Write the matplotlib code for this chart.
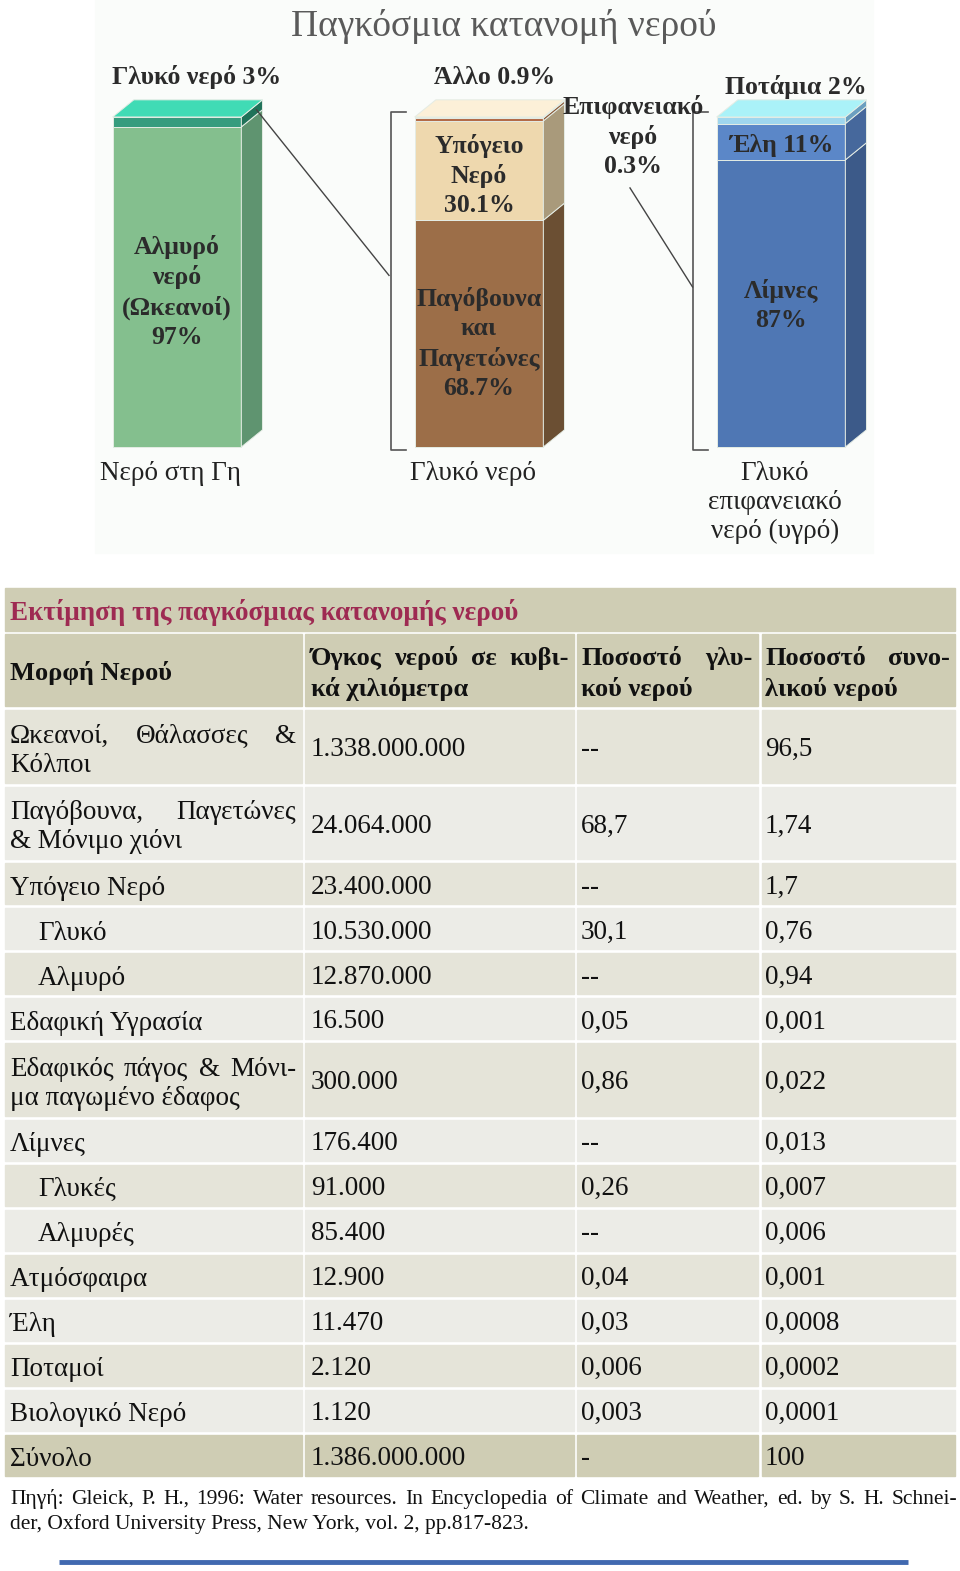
import matplotlib
matplotlib.use('Agg')
import matplotlib.pyplot as plt
from matplotlib.patches import Polygon, Rectangle

plt.rcParams['font.family'] = ['Liberation Serif', 'DejaVu Serif']

# ---- chart data (percent) ----
bar_names = ['Νερό στη Γη', 'Γλυκό νερό', 'Γλυκό\nεπιφανειακό\nνερό (υγρό)']
earth_names = ['Αλμυρό\nνερό\n(Ωκεανοί)', 'Γλυκό νερό']
earth_pct = [97, 3]
fresh_names = ['Παγόβουνα\nκαι\nΠαγετώνες', 'Υπόγειο\nΝερό', 'Άλλο', 'Επιφανειακό\nνερό']
fresh_pct = [68.7, 30.1, 0.9, 0.3]
surface_names = ['Λίμνες', 'Έλη', 'Ποτάμια']
surface_pct = [87, 11, 2]

# ---- table data ----
table_title = 'Εκτίμηση της παγκόσμιας κατανομής νερού'
col_heads = [['Μορφή Νερού'],
             ['Όγκος νερού σε κυβι-', 'κά χιλιόμετρα'],
             ['Ποσοστό γλυ-', 'κού νερού'],
             ['Ποσοστό συνο-', 'λικού νερού']]
forms = [['Ωκεανοί, Θάλασσες &', 'Κόλποι'],
         ['Παγόβουνα, Παγετώνες', '& Μόνιμο χιόνι'],
         ['Υπόγειο Νερό'], ['Γλυκό'], ['Αλμυρό'],
         ['Εδαφική Υγρασία'],
         ['Εδαφικός πάγος & Μόνι-', 'μα παγωμένο έδαφος'],
         ['Λίμνες'], ['Γλυκές'], ['Αλμυρές'],
         ['Ατμόσφαιρα'], ['Έλη'], ['Ποταμοί'], ['Βιολογικό Νερό'],
         ['Σύνολο']]
indented = [0, 0, 0, 1, 1, 0, 0, 0, 1, 1, 0, 0, 0, 0, 0]
volumes = ['1.338.000.000', '24.064.000', '23.400.000', '10.530.000',
           '12.870.000', '16.500', '300.000', '176.400', '91.000',
           '85.400', '12.900', '11.470', '2.120', '1.120', '1.386.000.000']
fresh_share = ['--', '68,7', '--', '30,1', '--', '0,05', '0,86', '--',
               '0,26', '--', '0,04', '0,03', '0,006', '0,003', '-']
total_share = ['96,5', '1,74', '1,7', '0,76', '0,94', '0,001', '0,022',
               '0,013', '0,007', '0,006', '0,001', '0,0008', '0,0002',
               '0,0001', '100']
source = ['Πηγή: Gleick, P. H., 1996: Water resources. In Encyclopedia of '
          'Climate and Weather, ed. by S. H. Schnei-',
          'der, Oxford University Press, New York, vol. 2, pp.817-823.']


def pct(v):
    return '%g%%' % v


fig = plt.figure(figsize=(9.6, 15.71), dpi=100)
bg = fig.add_axes([0, 0, 1, 1])
bg.set_xlim(0, 960)
bg.set_ylim(1571, 0)
bg.axis('off')
renderer = fig.canvas.get_renderer()

# light backdrop of the chart picture
bg.add_patch(Rectangle((95, 0), 778, 553, color='#fafcfa', zorder=0))

# ---- 3D-looking stacked bars ----
ax = fig.add_axes([95 / 960, 1 - 553 / 1571, 778 / 960, 553 / 1571])
ax.set_xlim(-0.2715, 2.3046)
ax.set_ylim(-32.12, 135.45)
ax.axis('off')

W = 0.426
DX, DY = 0.07, 5.2
stacks = [earth_pct, fresh_pct, surface_pct]
front_cols = [['#84bf8e', '#369c7e'],
              ['#9c6e48', '#eed8ae', '#b36b47', '#f3e4c4'],
              ['#4f77b4', '#5b87c8', '#9fd6ee']]
side_cols = [['#5f9470', '#1f7259'],
             ['#6b4f33', '#a99a7b', '#8a5838', '#b8ab8c'],
             ['#3c5a89', '#46689c', '#6b9fc0']]
top_cols = ['#40dbb5', '#fcf0d8', '#aaf2f8']

for i, vals in enumerate(stacks):
    bottom = 0
    for v, fc, sc in zip(vals, front_cols[i], side_cols[i]):
        ax.bar(i, v, width=W, bottom=bottom, color=fc,
               edgecolor='#e4ece4', linewidth=0.7, zorder=3)
        xr = i + W / 2
        ax.add_patch(Polygon([(xr, bottom), (xr + DX, bottom + DY),
                              (xr + DX, bottom + v + DY), (xr, bottom + v)],
                             closed=True, facecolor=sc, edgecolor='#e4ece4',
                             linewidth=0.7, zorder=3))
        bottom += v
    xl = i - W / 2
    ax.add_patch(Polygon([(xl, bottom), (xl + W, bottom),
                          (xl + W + DX, bottom + DY), (xl + DX, bottom + DY)],
                         closed=True, facecolor=top_cols[i],
                         edgecolor='#e4ece4', linewidth=0.7, zorder=3))

lab = dict(ha='center', va='center', fontsize=18.5, fontweight='bold',
           color='#2b2b2b', linespacing=1.33, zorder=5)
# labels inside the big segments
ax.text(0, earth_pct[0] / 2 - 1.5, earth_names[0] + '\n' + pct(earth_pct[0]), **lab)
ax.text(1, fresh_pct[0] / 2 - 3, fresh_names[0] + '\n' + pct(fresh_pct[0]), **lab)
ax.text(1, fresh_pct[0] + fresh_pct[1] / 2 - 1.5,
        fresh_names[1] + '\n' + pct(fresh_pct[1]), **lab)
ax.text(2, surface_pct[0] / 2 - 0.5, surface_names[0] + '\n' + pct(surface_pct[0]), **lab)
ax.text(2, surface_pct[0] + surface_pct[1] / 2 - 1,
        surface_names[1] + ' ' + pct(surface_pct[1]), **lab)
# labels over the bars
ax.text(0.065, 112, earth_names[1] + ' ' + pct(earth_pct[1]), **lab)
ax.text(1.05, 112, fresh_names[2] + ' ' + pct(fresh_pct[2]), **lab)
ax.text(2.05, 109, surface_names[2] + ' ' + pct(surface_pct[2]), **lab)
ax.text(1.51, 94, fresh_names[3] + '\n' + pct(fresh_pct[3]), **lab)
# names under the bars
for i, name in enumerate(bar_names):
    ax.text(i - 0.02, -4.2, name, ha='center', va='top', fontsize=19.5,
            color='#222222', linespacing=1.2, zorder=5)

# brackets and connector lines
for i in (1, 2):
    bx = i - W / 2 - 0.08
    ax.plot([bx + 0.05, bx, bx, bx + 0.05], [101.5, 101.5, -1, -1],
            color='#555555', lw=1.2, zorder=4)
ax.plot([W / 2 + DX - 0.02, 1 - W / 2 - 0.085], [earth_pct[0] + DY, 52],
        color='#444444', lw=1.0, zorder=4)
ax.plot([1.5, 2 - W / 2 - 0.08], [78.5, 48.5], color='#444444', lw=1.0,
        zorder=4)

# chart title
bg.text(504, 26, 'Παγκόσμια κατανομή νερού', ha='center', va='center',
        fontsize=27, color='#5a5a5a')


# ---- table ----
def justified(words, x0, x1, y, **kw):
    texts = [bg.text(0, y, w, ha='left', va='baseline', **kw) for w in words]
    widths = [t.get_window_extent(renderer).width for t in texts]
    gap = (x1 - x0 - sum(widths)) / max(len(words) - 1, 1)
    x = x0
    for t, w in zip(texts, widths):
        t.set_x(x)
        x += w + gap


KHAKI = '#cfcdb4'
ROW_A = '#e5e4d9'
ROW_B = '#ecece7'
col_x = [(5, 302), (305, 574), (577, 758), (762, 955)]
text_x = [10, 311, 581, 765]

bg.add_patch(Rectangle((5, 588), 950, 43, color=KHAKI))
bg.text(10, 620, table_title, ha='left', va='baseline', fontsize=19.5,
        fontweight='bold', color='#9e2a52')

head_top, head_h = 634, 72
head = dict(fontsize=19, fontweight='bold', color='#111111')
for j, (x0, x1) in enumerate(col_x):
    bg.add_patch(Rectangle((x0, head_top), x1 - x0, head_h, color=KHAKI))
    lines = col_heads[j]
    if len(lines) == 1:
        bg.text(text_x[j], 680, lines[0], ha='left', va='baseline', **head)
    else:
        justified(lines[0].split(' '), text_x[j], x1 - 5, 665, **head)
        bg.text(text_x[j], 696, lines[1], ha='left', va='baseline', **head)

top = 710
body = dict(fontsize=19.5, color='#111111')
for r, lines in enumerate(forms):
    n = len(lines)
    h = 9.5 + 31.5 * n
    last = r == len(forms) - 1
    fill = KHAKI if last else (ROW_A if r % 2 == 0 else ROW_B)
    for x0, x1 in col_x:
        bg.add_patch(Rectangle((x0, top), x1 - x0, h, color=fill))
    c = top + h / 2
    for k, line in enumerate(lines):
        y = c + 11 + (k - (n - 1) / 2) * 29
        x = text_x[0] + 28 * indented[r]
        if n > 1 and k == 0:
            justified(line.split(' '), x, 296, y, **body)
        else:
            bg.text(x, y, line, ha='left', va='baseline', **body)
    for j, val in enumerate([volumes[r], fresh_share[r], total_share[r]]):
        bg.text(text_x[j + 1], c + 10, val, ha='left', va='baseline', **body)
    top += h + 4

justified(source[0].split(' '), 10, 957, 1504, fontsize=15.5, color='#111111')
bg.text(10, 1529, source[1], ha='left', va='baseline', fontsize=15.5,
        color='#111111')

bg.plot([59, 908], [1562, 1562], color='#4169b0', lw=3.5,
        solid_capstyle='butt')

fig.savefig('out.png', dpi=100)
